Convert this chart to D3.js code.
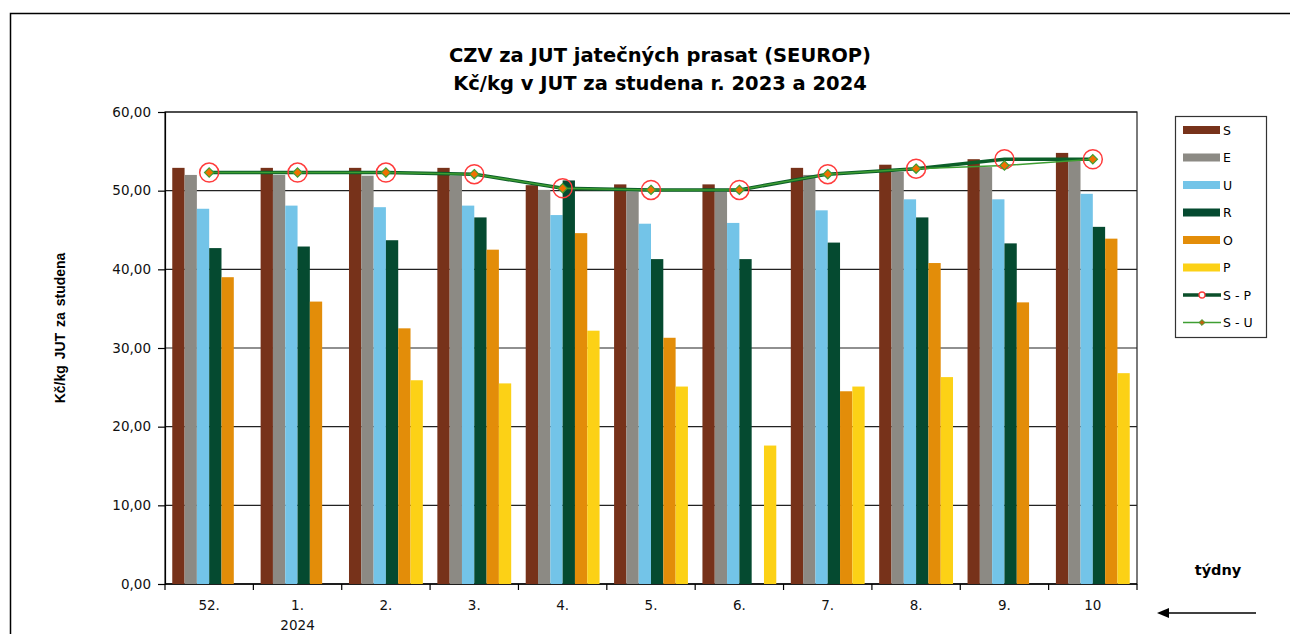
<!DOCTYPE html>
<html>
<head>
<meta charset="utf-8">
<script src="https://cdn.jsdelivr.net/npm/d3@7"></script>
<style>
  body { margin: 0; background: #fff; }
  svg { display: block; }
</style>
</head>
<body>
<div id="container"></div>
<script>
let w = 1290;
let h = 634;

// DATA
let weeks = ["52.", "1.", "2.", "3.", "4.", "5.", "6.", "7.", "8.", "9.", "10"];
let weekSub = ["", "2024", "", "", "", "", "", "", "", "", ""];
let seriesNames = ["S", "E", "U", "R", "O", "P"];
let valS = [52.9, 52.9, 52.9, 52.9, 50.7, 50.8, 50.8, 52.9, 53.3, 54.0, 54.8];
let valE = [52.0, 52.0, 51.9, 51.9, 50.1, 49.9, 49.9, 52.0, 52.4, 53.0, 53.9];
let valU = [47.7, 48.1, 47.9, 48.1, 46.9, 45.8, 45.9, 47.5, 48.9, 48.9, 49.6];
let valR = [42.7, 42.9, 43.7, 46.6, 51.3, 41.3, 41.3, 43.4, 46.6, 43.3, 45.4];
let valO = [39.0, 35.9, 32.5, 42.5, 44.6, 31.3, null, 24.5, 40.8, 35.8, 43.9];
let valP = [null, null, 25.9, 25.5, 32.2, 25.1, 17.6, 25.1, 26.3, null, 26.8];
let valSP = [52.3, 52.3, 52.3, 52.1, 50.3, 50.1, 50.1, 52.1, 52.8, 54.0, 54.0];
let valSU = [52.3, 52.3, 52.3, 52.1, 50.3, 50.1, 50.1, 52.1, 52.8, 53.2, 54.0];
let yTicks = [0, 10, 20, 30, 40, 50, 60];

let barColors = ["#77321A", "#8C8A84", "#73C4E8", "#054A30", "#E38D09", "#FCD116"];
let barValues = [valS, valE, valU, valR, valO, valP];

// plot area
let plotL = 165, plotR = 1137, plotT = 112, plotB = 584;

let viz = d3.select("#container").append("svg")
    .attr("width", w)
    .attr("height", h)
    .style("font-family", "'DejaVu Sans', Verdana, sans-serif");

// chart border
viz.append("rect")
  .attr("x", 10.5).attr("y", 13.5)
  .attr("width", 1400).attr("height", 800)
  .attr("fill", "white").attr("stroke", "#000").attr("stroke-width", 1.5);

// title
viz.append("text")
  .attr("x", 660).attr("y", 62)
  .attr("text-anchor", "middle")
  .style("font-size", "19.5px").style("font-weight", "bold")
  .text("CZV za JUT jatečných prasat (SEUROP)");
viz.append("text")
  .attr("x", 660).attr("y", 90)
  .attr("text-anchor", "middle")
  .style("font-size", "19.5px").style("font-weight", "bold")
  .text("Kč/kg v JUT za studena r. 2023 a 2024");

// SCALES
let yScale = d3.scaleLinear().domain([0, 60]).range([plotB, plotT]);
let x0 = d3.scaleBand().domain(weeks).range([plotL, plotR]).padding(0);
let x1 = d3.scaleBand().domain(seriesNames).range([0, x0.bandwidth()])
  .paddingInner(0).paddingOuter(0.59);

// plot frame
viz.append("rect")
  .attr("x", plotL).attr("y", plotT)
  .attr("width", plotR - plotL).attr("height", plotB - plotT)
  .attr("fill", "white").attr("stroke", "#222").attr("stroke-width", 1.2);

// gridlines
viz.selectAll(".grid").data(yTicks.slice(1)).enter()
  .append("line")
    .attr("class", "grid")
    .attr("x1", plotL).attr("x2", plotR)
    .attr("y1", function(d){ return yScale(d); })
    .attr("y2", function(d){ return yScale(d); })
    .attr("stroke", "#222").attr("stroke-width", 1.2);

// y axis
let yAxis = d3.axisLeft(yScale)
  .tickValues(yTicks)
  .tickSize(7)
  .tickFormat(function(d){ return d3.format(".2f")(d).replace(".", ","); });
let yG = viz.append("g").attr("transform", "translate(" + plotL + ",0)").call(yAxis);
yG.select(".domain").attr("stroke", "#000").attr("stroke-width", 1.2);
yG.selectAll(".tick line").attr("stroke", "#000").attr("stroke-width", 1.2);
yG.selectAll(".tick text")
  .attr("x", -14)
  .style("font-family", "'DejaVu Sans', Verdana, sans-serif")
  .style("font-size", "13.5px").attr("fill", "#111");

// y axis label
viz.append("text")
  .attr("transform", "translate(65," + 328 + ") rotate(-90)")
  .attr("text-anchor", "middle")
  .style("font-family", "'Liberation Sans', Arial, sans-serif")
  .style("font-size", "14px").style("font-weight", "bold")
  .style("word-spacing", "2px")
  .text("Kč/kg  JUT za studena");

// x axis ticks at category boundaries
let boundaries = weeks.map(function(d){ return x0(d); }).concat([plotR]);
viz.selectAll(".xtick").data(boundaries).enter()
  .append("line")
    .attr("class", "xtick")
    .attr("x1", function(d){ return d; }).attr("x2", function(d){ return d; })
    .attr("y1", plotB).attr("y2", plotB + 6)
    .attr("stroke", "#000").attr("stroke-width", 1.2);
viz.append("line")
  .attr("x1", plotL).attr("x2", plotR)
  .attr("y1", plotB).attr("y2", plotB)
  .attr("stroke", "#000").attr("stroke-width", 1.5);

viz.selectAll(".xlab").data(weeks).enter()
  .append("text")
    .attr("class", "xlab")
    .attr("x", function(d){ return x0(d) + x0.bandwidth() / 2; })
    .attr("y", 610)
    .attr("text-anchor", "middle")
    .style("font-size", "13.5px")
    .attr("fill", "#111")
    .text(function(d){ return d; });
viz.selectAll(".xsub").data(weeks).enter()
  .append("text")
    .attr("class", "xsub")
    .attr("x", function(d){ return x0(d) + x0.bandwidth() / 2; })
    .attr("y", 630)
    .attr("text-anchor", "middle")
    .style("font-size", "13.5px")
    .attr("fill", "#111")
    .text(function(d, i){ return weekSub[i]; });

// BARS
seriesNames.forEach(function(s, si){
  let vals = barValues[si];
  viz.selectAll(".bar-" + s).data(weeks).enter()
    .filter(function(d, i){ return vals[i] != null; })
    .append("rect")
      .attr("class", "bar-" + s)
      .attr("x", function(d){ return x0(d) + x1(s); })
      .attr("width", x1.bandwidth())
      .attr("y", function(d){ return yScale(vals[weeks.indexOf(d)]); })
      .attr("height", function(d){ return plotB - yScale(vals[weeks.indexOf(d)]); })
      .attr("fill", barColors[si]);
});

// LINES
let cx = function(d, i){ return x0(weeks[i]) + x0.bandwidth() / 2; };
let lineMaker = d3.line()
  .x(cx)
  .y(function(d){ return yScale(d); });

viz.append("path")
  .datum(valSP)
  .attr("d", lineMaker)
  .attr("fill", "none")
  .attr("stroke", "#0B5E28")
  .attr("stroke-width", 3.5);

viz.append("path")
  .datum(valSU)
  .attr("d", lineMaker)
  .attr("fill", "none")
  .attr("stroke", "#3E9E32")
  .attr("stroke-width", 1.5);

viz.selectAll(".spMark").data(valSP).enter()
  .append("circle")
    .attr("class", "spMark")
    .attr("cx", cx)
    .attr("cy", function(d){ return yScale(d); })
    .attr("r", 9.5)
    .attr("fill", "none")
    .attr("stroke", "#FF3C3C")
    .attr("stroke-width", 1.5);

let diamond = d3.symbol().type(d3.symbolDiamond2).size(55);
viz.selectAll(".suMark").data(valSU).enter()
  .append("path")
    .attr("class", "suMark")
    .attr("d", diamond)
    .attr("transform", function(d, i){ return "translate(" + cx(d, i) + "," + yScale(d) + ")"; })
    .attr("fill", "#F07000")
    .attr("stroke", "#3E9E32")
    .attr("stroke-width", 1.2);

// LEGEND
let legendNames = ["S", "E", "U", "R", "O", "P", "S - P", "S - U"];
let legX = 1175, legY = 116;
viz.append("rect")
  .attr("x", legX + 0.5).attr("y", legY + 0.5)
  .attr("width", 91).attr("height", 221)
  .attr("fill", "white").attr("stroke", "#333").attr("stroke-width", 1.2);

let legStep = 27.5;
let legItems = viz.selectAll(".leg").data(legendNames).enter()
  .append("g")
    .attr("class", "leg")
    .attr("transform", function(d, i){ return "translate(" + (legX + 8) + "," + (legY + 14 + i * legStep) + ")"; });

legItems.filter(function(d, i){ return i < 6; })
  .append("rect")
    .attr("x", 0).attr("y", -4)
    .attr("width", 37).attr("height", 8)
    .attr("fill", function(d, i){ return barColors[i]; });

legItems.filter(function(d){ return d == "S - P"; })
  .append("line")
    .attr("x1", 0).attr("x2", 38).attr("y1", 0).attr("y2", 0)
    .attr("stroke", "#0B4F2A").attr("stroke-width", 3.5);
legItems.filter(function(d){ return d == "S - P"; })
  .append("circle")
    .attr("cx", 19).attr("cy", 0).attr("r", 3)
    .attr("fill", "white").attr("stroke", "#FF3C3C").attr("stroke-width", 1.3);

legItems.filter(function(d){ return d == "S - U"; })
  .append("line")
    .attr("x1", 0).attr("x2", 38).attr("y1", 0).attr("y2", 0)
    .attr("stroke", "#3E9E32").attr("stroke-width", 1.3);
legItems.filter(function(d){ return d == "S - U"; })
  .append("path")
    .attr("d", d3.symbol().type(d3.symbolDiamond2).size(22))
    .attr("transform", "translate(19,0)")
    .attr("fill", "#C06010").attr("stroke", "#3E9E32").attr("stroke-width", 1);

legItems.append("text")
  .attr("x", 40).attr("y", 4.5)
  .style("font-family", "'DejaVu Sans', Verdana, sans-serif")
  .style("font-size", "12.5px")
  .text(function(d){ return d; });

// týdny + arrow
viz.append("text")
  .attr("x", 1218).attr("y", 575)
  .attr("text-anchor", "middle")
  .style("font-size", "14.5px").style("font-weight", "bold")
  .text("týdny");

viz.append("line")
  .attr("x1", 1256).attr("x2", 1166)
  .attr("y1", 613).attr("y2", 613)
  .attr("stroke", "#000").attr("stroke-width", 1.5);
viz.append("path")
  .attr("d", d3.line()([[1157, 613], [1169, 608], [1169, 618]]))
  .attr("fill", "#000");
</script>
</body>
</html>
